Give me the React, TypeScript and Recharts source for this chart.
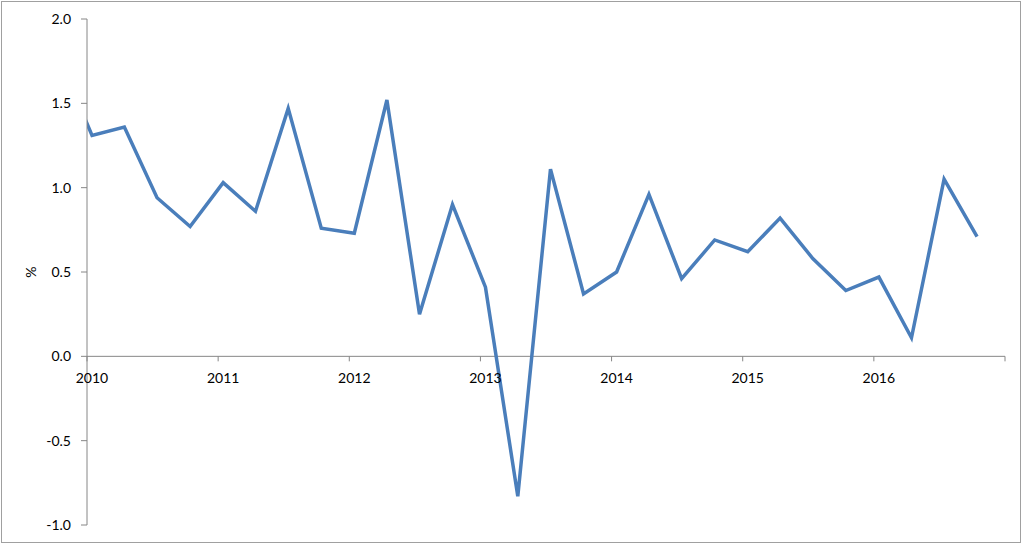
import React from 'react';
import { LineChart, Line, XAxis, YAxis, ReferenceLine } from 'recharts';

// quarterly readings, one per quarter (first one sits just before the axis starts)
const quarterDates = [
  '2009-10-15',
  '2010-01-15', '2010-04-15', '2010-07-15', '2010-10-15',
  '2011-01-15', '2011-04-15', '2011-07-15', '2011-10-15',
  '2012-01-15', '2012-04-15', '2012-07-15', '2012-10-15',
  '2013-01-15', '2013-04-15', '2013-07-15', '2013-10-15',
  '2014-01-15', '2014-04-15', '2014-07-15', '2014-10-15',
  '2015-01-15', '2015-04-15', '2015-07-15', '2015-10-15',
  '2016-01-15', '2016-04-15', '2016-07-15', '2016-10-15',
];

const growthPct = [
  1.77,
  1.31, 1.36, 0.94, 0.77,
  1.03, 0.86, 1.47, 0.76,
  0.73, 1.52, 0.25, 0.90,
  0.41, -0.83, 1.11, 0.37,
  0.50, 0.96, 0.46, 0.69,
  0.62, 0.82, 0.58, 0.39,
  0.47, 0.11, 1.05, 0.71,
];

const yearTicks = [2010, 2011, 2012, 2013, 2014, 2015, 2016, 2017];
const valueTicks = [-1, -0.5, 0, 0.5, 1, 1.5, 2];

const Y_MIN = -1;
const Y_MAX = 2;

const toDecimalYear = (iso: string) => {
  const d = new Date(iso + 'T00:00:00Z');
  const y = d.getUTCFullYear();
  const start = Date.UTC(y, 0, 1);
  const end = Date.UTC(y + 1, 0, 1);
  return y + (d.getTime() - start) / (end - start);
};

const data = quarterDates.map((q, i) => ({ t: toDecimalYear(q), value: growthPct[i] }));

const W = 1024;
const H = 544;
const MARGIN = { top: 19, right: 19, bottom: 18, left: 0 };
const X_AXIS_H = 1;
const PLOT_H = H - MARGIN.top - MARGIN.bottom - X_AXIS_H;
const AXIS_GREY = '#868686';
const FONT = 'Lato, "Open Sans", sans-serif';

// x axis sits on the zero line, not at the bottom of the plot
const YearTick = (props: any) => {
  const { x, y, payload } = props;
  const zeroY = y - (PLOT_H * (0 - Y_MIN)) / (Y_MAX - Y_MIN);
  const label = payload.value < 2017 ? String(payload.value) : '';
  return (
    <g>
      <line x1={x} y1={zeroY} x2={x} y2={zeroY + 5} stroke={AXIS_GREY} strokeWidth={1} />
      <text x={x + 5} y={zeroY + 27} textAnchor="middle" fontSize={14} fontFamily={FONT} fill="#000">
        {label}
      </text>
    </g>
  );
};

const App: React.FC = () => {
  return (
    <div style={{ position: 'absolute', left: 0, top: 0, width: W, height: H, background: '#fff' }}>
      <div
        style={{
          position: 'absolute',
          left: 1,
          top: 1,
          width: 1020,
          height: 542,
          boxSizing: 'border-box',
          border: '1px solid #a0a0a0',
        }}
      />
      <div style={{ position: 'absolute', left: 0, top: 0 }}>
        <LineChart width={W} height={H} data={data} margin={MARGIN}>
          <XAxis
            dataKey="t"
            type="number"
            domain={[2010, 2017]}
            ticks={yearTicks}
            allowDataOverflow
            axisLine={false}
            tickLine={false}
            tickSize={0}
            tickMargin={0}
            height={X_AXIS_H}
            interval={0}
            tick={YearTick}
          />
          <YAxis
            type="number"
            domain={[Y_MIN, Y_MAX]}
            ticks={valueTicks}
            width={87}
            tickSize={6}
            tickMargin={10}
            interval={0}
            tickFormatter={(v: number) => v.toFixed(1)}
            axisLine={{ stroke: AXIS_GREY }}
            tickLine={{ stroke: AXIS_GREY }}
            tick={{ fill: '#000', fontSize: 14, fontFamily: FONT }}
            label={{
              value: '%',
              angle: -90,
              position: 'insideLeft',
              offset: 31,
              style: { textAnchor: 'middle', fill: '#000', fontSize: 14, fontFamily: FONT },
            }}
          />
          <ReferenceLine y={0} stroke={AXIS_GREY} strokeWidth={1} />
          <Line
            type="linear"
            dataKey="value"
            stroke="#4A7EBB"
            strokeWidth={3.5}
            dot={false}
            activeDot={false}
            isAnimationActive={false}
          />
        </LineChart>
      </div>
    </div>
  );
};

export default App;
